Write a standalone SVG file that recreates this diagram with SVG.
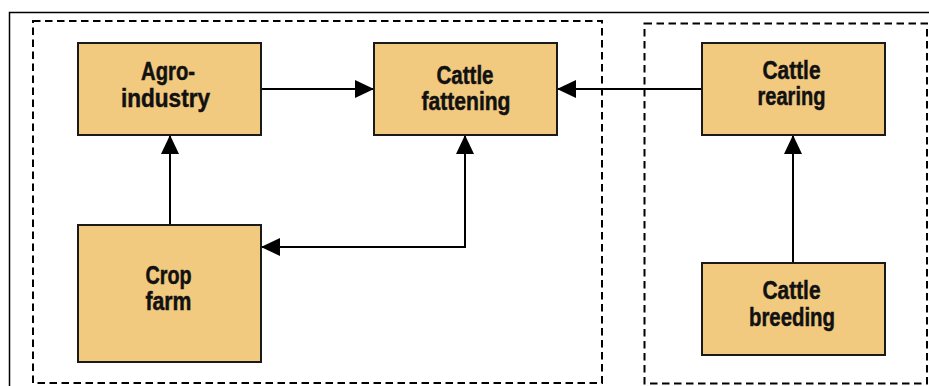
<svg xmlns="http://www.w3.org/2000/svg" width="929" height="386" viewBox="0 0 929 386">
<style>
.box{fill:#F1C97F;stroke:#1a1a1a;stroke-width:2}
.lbl{font-family:"Liberation Sans",Arial,sans-serif;font-weight:bold;font-size:25.5px;fill:#111;stroke:#111;stroke-width:0.5;text-anchor:middle}
.dash{fill:none;stroke:#000;stroke-width:2;stroke-dasharray:7.5 4.5}
.conn{fill:none;stroke:#000;stroke-width:2}
</style>
<defs>
<marker id="arr" markerUnits="userSpaceOnUse" markerWidth="19" markerHeight="18" refX="19" refY="9" orient="auto-start-reverse">
<path d="M0,0 L19,9 L0,18 z" fill="#000"/>
</marker>
</defs>
<rect width="929" height="386" fill="#fff"/>
<g id="frame">
<path d="M9.5 386 V12.5 H929" fill="none" stroke="#000" stroke-width="1.5"/>
</g>
<g id="group-left"><rect class="dash" x="33" y="21" width="569" height="362"/></g>
<g id="group-right"><rect class="dash" x="644.5" y="23.5" width="282.5" height="360"/></g>
<g id="connectors">
<path class="conn" d="M261 89 H374" marker-end="url(#arr)"/>
<path class="conn" d="M702 89 H557" marker-end="url(#arr)"/>
<path class="conn" d="M170 225 V135" marker-end="url(#arr)"/>
<path class="conn" d="M465 135 V247 H261" marker-start="url(#arr)" marker-end="url(#arr)"/>
<path class="conn" d="M793 263 V135" marker-end="url(#arr)"/>
</g>
<g id="agro-industry">
<rect class="box" x="78" y="43" width="183" height="92"/>
<text class="lbl"><tspan x="168" y="79.5" textLength="54" lengthAdjust="spacingAndGlyphs">Agro-</tspan><tspan x="165.5" y="107" textLength="89" lengthAdjust="spacingAndGlyphs">industry</tspan></text>
</g>
<g id="cattle-fattening">
<rect class="box" x="374" y="43" width="183" height="92"/>
<text class="lbl"><tspan x="465" y="84" textLength="57" lengthAdjust="spacingAndGlyphs">Cattle</tspan><tspan x="466" y="109.5" textLength="89" lengthAdjust="spacingAndGlyphs">fattening</tspan></text>
</g>
<g id="cattle-rearing">
<rect class="box" x="702" y="43" width="183" height="92"/>
<text class="lbl"><tspan x="791.5" y="78.5" textLength="58" lengthAdjust="spacingAndGlyphs">Cattle</tspan><tspan x="791.5" y="104.5" textLength="68" lengthAdjust="spacingAndGlyphs">rearing</tspan></text>
</g>
<g id="crop-farm">
<rect class="box" x="78" y="225" width="183" height="137"/>
<text class="lbl"><tspan x="168.5" y="284" textLength="46" lengthAdjust="spacingAndGlyphs">Crop</tspan><tspan x="168.5" y="310" textLength="46" lengthAdjust="spacingAndGlyphs">farm</tspan></text>
</g>
<g id="cattle-breeding">
<rect class="box" x="702" y="263" width="183" height="92"/>
<text class="lbl"><tspan x="791.5" y="298.5" textLength="58" lengthAdjust="spacingAndGlyphs">Cattle</tspan><tspan x="792" y="325.5" textLength="86" lengthAdjust="spacingAndGlyphs">breeding</tspan></text>
</g>
</svg>
